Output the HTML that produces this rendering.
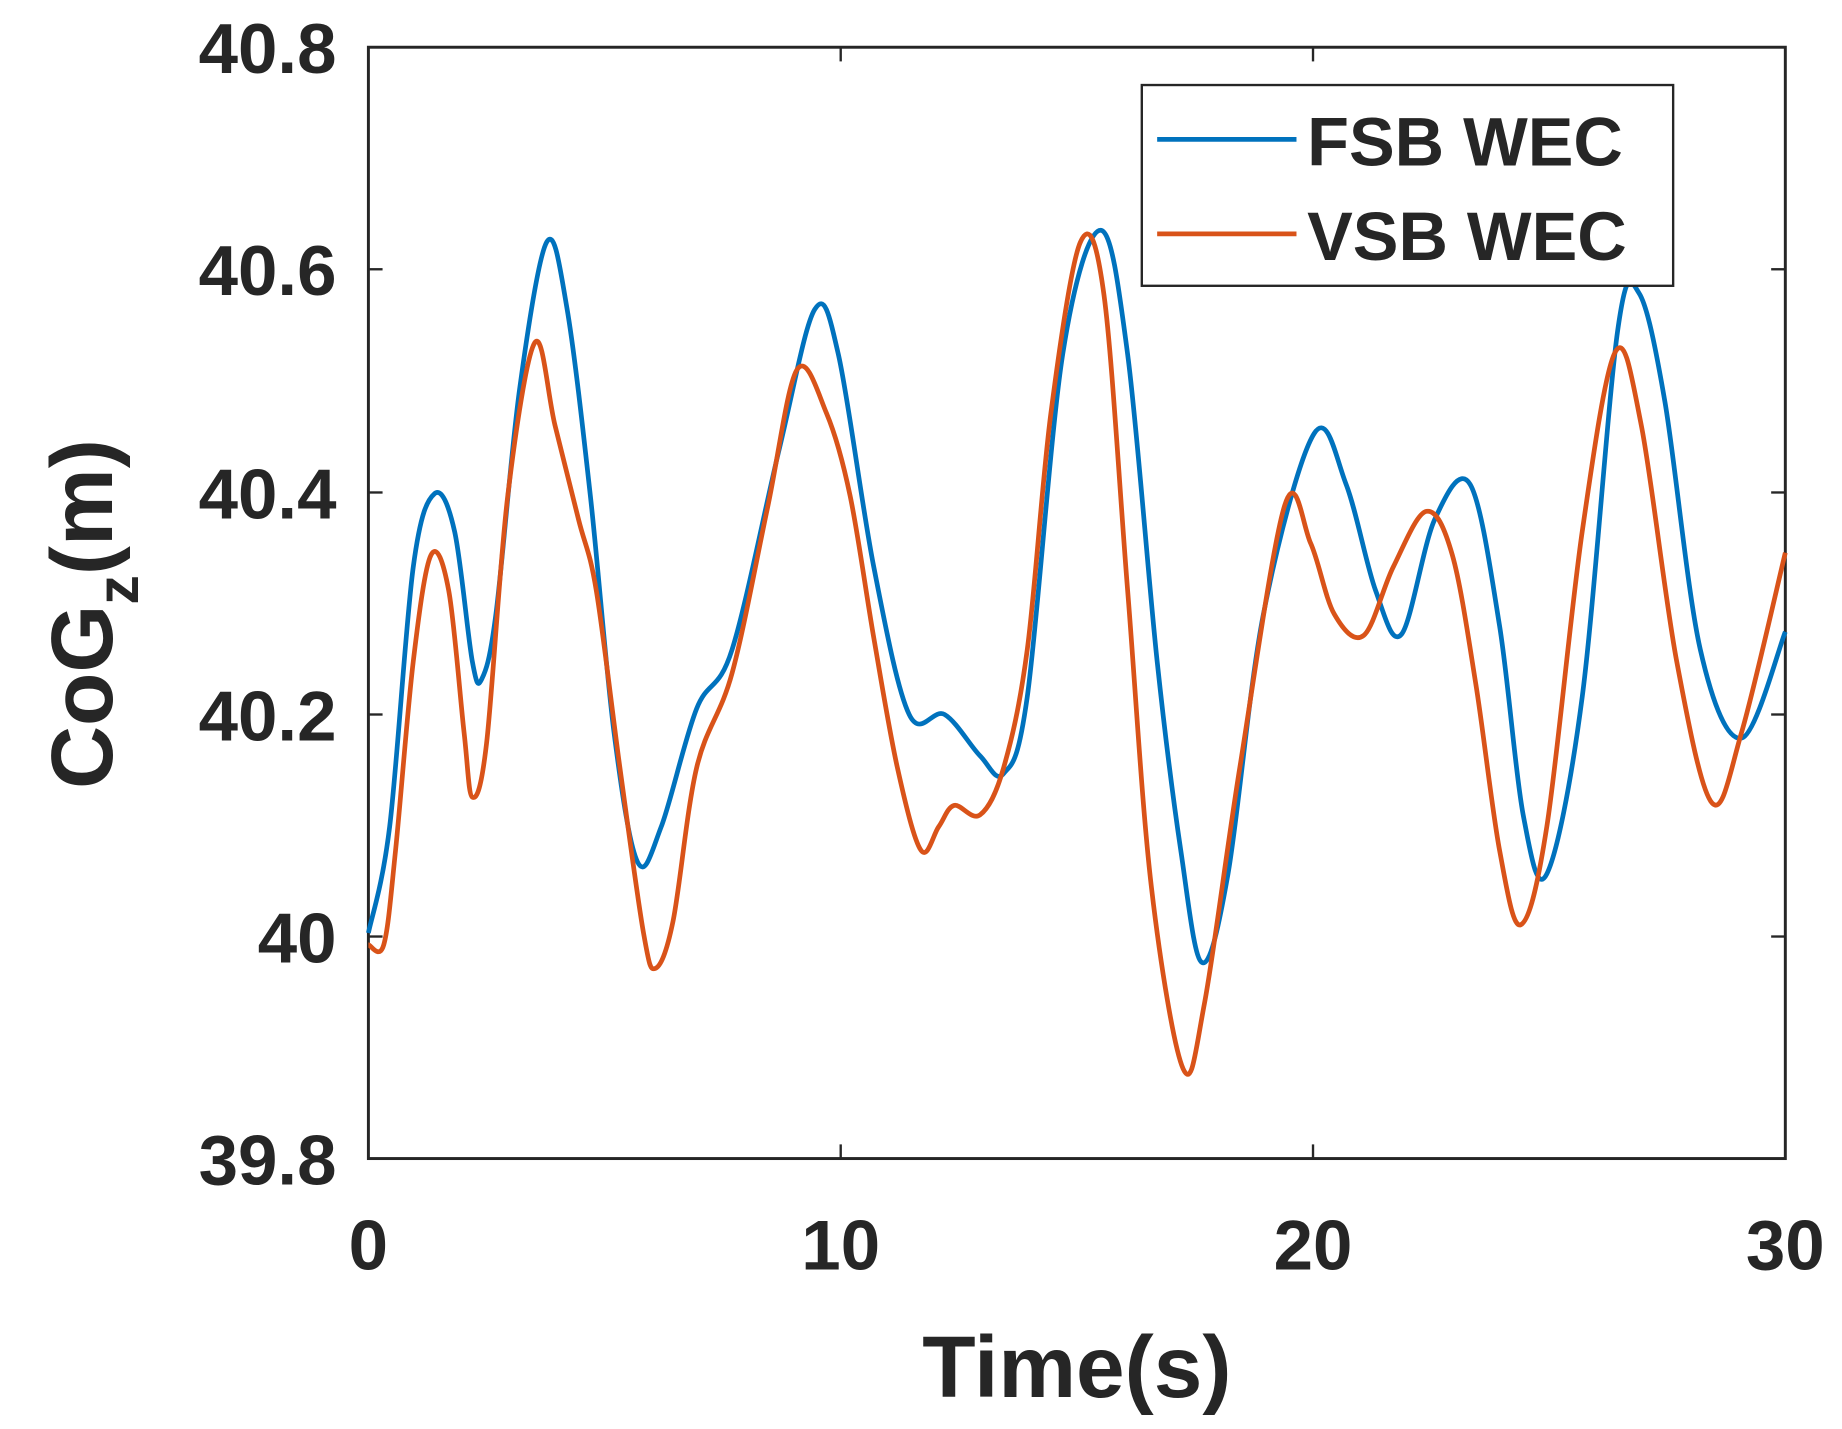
<!DOCTYPE html>
<html><head><style>body{margin:0;background:#fff}svg{display:block}</style></head><body>
<svg width="1842" height="1429" viewBox="0 0 1560 1210" preserveAspectRatio="none" xmlns="http://www.w3.org/2000/svg" font-family="Liberation Sans, Arial, sans-serif" font-weight="bold" fill="#262626">
<rect x="312" y="40" width="1200" height="941" fill="#fff" stroke="#262626" stroke-width="2.5"/>
<g stroke="#262626" stroke-width="2">
<line x1="312" y1="228" x2="324" y2="228"/><line x1="1512" y1="228" x2="1500" y2="228"/>
<line x1="312" y1="417" x2="324" y2="417"/><line x1="1512" y1="417" x2="1500" y2="417"/>
<line x1="312" y1="605" x2="324" y2="605"/><line x1="1512" y1="605" x2="1500" y2="605"/>
<line x1="312" y1="793" x2="324" y2="793"/><line x1="1512" y1="793" x2="1500" y2="793"/>
<line x1="712" y1="981" x2="712" y2="969"/><line x1="712" y1="40" x2="712" y2="52"/>
<line x1="1112" y1="981" x2="1112" y2="969"/><line x1="1112" y1="40" x2="1112" y2="52"/>
</g>
<g font-size="60" text-anchor="end">
<text x="285" y="62">40.8</text><text x="285" y="250">40.6</text><text x="285" y="439">40.4</text><text x="285" y="627">40.2</text><text x="285" y="815">40</text><text x="285" y="1003">39.8</text>
</g>
<g font-size="60" text-anchor="middle">
<text x="312" y="1075">0</text><text x="712" y="1075">10</text><text x="1112" y="1075">20</text><text x="1512" y="1075">30</text>
</g>
<text x="912" y="1183" font-size="74" text-anchor="middle">Time(s)</text>
<text transform="translate(95,520) rotate(-90)" font-size="74" text-anchor="middle">CoG<tspan font-size="50" dy="22">z</tspan><tspan dy="-22">(m)</tspan></text>
<path id="pb" fill="none" stroke="#0072BD" stroke-width="4" stroke-linejoin="round" data-p="312,790 330,700 350,480 368,418 385,450 400,560 408,575 420,520 440,330 463,205 480,260 500,420 520,620 540,730 560,700 590,600 620,550 660,380 690,262 710,300 740,480 770,605 800,605 830,640 850,655 870,590 900,300 932,195 955,300 980,560 1000,720 1018,815 1040,740 1070,520 1113,367 1140,410 1165,500 1187,537 1215,440 1245,410 1270,530 1290,690 1310,740 1340,590 1370,280 1388,248 1410,340 1440,550 1475,625 1512,535"/>
<path id="po" fill="none" stroke="#D95319" stroke-width="4" stroke-linejoin="round" data-p="312,800 325,800 335,720 350,560 365,470 380,500 393,620 400,675 412,630 430,420 453,290 470,360 490,440 505,500 525,650 545,790 555,820 570,780 590,650 620,570 650,430 675,313 700,350 720,420 740,540 760,650 780,720 795,700 808,682 830,690 850,650 870,550 890,350 915,205 935,250 955,500 975,750 1002,905 1020,850 1050,650 1088,428 1110,460 1130,520 1155,538 1180,480 1208,433 1230,470 1250,580 1270,720 1288,783 1310,700 1340,450 1368,298 1390,360 1420,560 1450,680 1475,620 1512,468"/>
<rect x="967" y="72" width="450" height="170" fill="#fff" stroke="#262626" stroke-width="2"/>
<line x1="980" y1="118" x2="1098" y2="118" stroke="#0072BD" stroke-width="4"/>
<line x1="980" y1="198" x2="1098" y2="198" stroke="#D95319" stroke-width="4"/>
<g font-size="58"><text x="1107" y="140">FSB WEC</text><text x="1107" y="220">VSB WEC</text></g>
</svg>
<script>
["pb","po"].forEach(function(id){
var el=document.getElementById(id);
var p=el.getAttribute("data-p").split(" ").map(function(s){return s.split(",").map(Number);});
var d="M"+p[0][0]+","+p[0][1];
for(var i=0;i<p.length-1;i++){
var a=p[Math.max(i-1,0)],b=p[i],c=p[i+1],e=p[Math.min(i+2,p.length-1)];
var c1x=b[0]+(c[0]-a[0])/6,c1y=b[1]+(c[1]-a[1])/6,c2x=c[0]-(e[0]-b[0])/6,c2y=c[1]-(e[1]-b[1])/6;
d+=" C"+c1x+","+c1y+" "+c2x+","+c2y+" "+c[0]+","+c[1];
}
el.setAttribute("d",d);
});
</script>
<noscript></noscript>
<style>path:not([d]){}</style>
<svg width="0" height="0" style="position:absolute"></svg>
<script>
["pb","po"].forEach(function(id){var el=document.getElementById(id);if(!el.getAttribute("d")){el.setAttribute("d","M"+el.getAttribute("data-p").replace(/ /g," L"));}});
</script>
</body></html>
